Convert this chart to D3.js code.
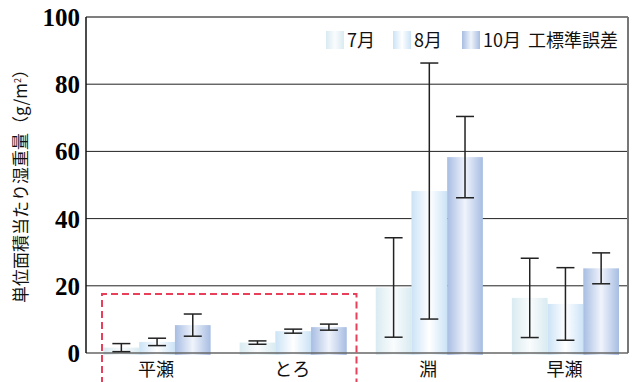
<!DOCTYPE html>
<html>
<head>
<meta charset="utf-8">
<title></title>
<script src="https://cdn.jsdelivr.net/npm/d3@7"></script>
<style>
  body { margin: 0; background: #fff; }
</style>
</head>
<body>
<div id="chart"></div>
<script>
// data
var sites = ["平瀬", "とろ", "淵", "早瀬"];
var months = ["7月", "8月", "10月"];
var mean7  = [1.6, 3.1, 19.5, 16.4];
var mean8  = [3.3, 6.5, 48.2, 14.6];
var mean10 = [8.3, 7.7, 58.3, 25.2];
var se7    = [1.2, 0.5, 14.8, 11.8];
var se8    = [1.1, 0.6, 38.1, 10.8];
var se10   = [3.3, 0.9, 12.1, 4.6];
var yTicks = [0, 20, 40, 60, 80, 100];

var means = [mean7, mean8, mean10];
var ses = [se7, se8, se10];
var rows = [];
sites.forEach(function (s, i) {
  months.forEach(function (m, j) {
    rows.push({ site: s, month: m, j: j, value: means[j][i], se: ses[j][i] });
  });
});

var W = 635, H = 382;
var mLeft = 86, mRight = 628, mTop = 17, mBottom = 353;

var svg = d3.select("#chart").append("svg")
  .attr("width", W).attr("height", H)
  .style("font-family", "'Noto Sans CJK JP', 'Noto Sans', sans-serif");

// gradients for the bars
var grads = [
  ["#d9ebf1", "#fafcfd", "#d9ebf1"],
  ["#cbe3f6", "#ffffff", "#cbe3f6"],
  ["#a7bde2", "#f0f4fb", "#a7bde2"]
];
var defs = svg.append("defs");
grads.forEach(function (g, i) {
  var lg = defs.append("linearGradient").attr("id", "g" + i)
    .attr("x1", "0%").attr("x2", "100%").attr("y1", "0%").attr("y2", "0%");
  lg.append("stop").attr("offset", "0%").attr("stop-color", g[0]);
  lg.append("stop").attr("offset", "50%").attr("stop-color", g[1]);
  lg.append("stop").attr("offset", "100%").attr("stop-color", g[2]);
});

var y = d3.scaleLinear().domain([0, 100]).range([mBottom, mTop]);
var x0 = d3.scaleBand().domain(sites).range([89, 633.5]).paddingInner(0.213).paddingOuter(0.1065);
var x1 = d3.scaleBand().domain(months).range([0, x0.bandwidth()]);

// grid lines
svg.append("g").selectAll("line")
  .data(yTicks.filter(function (d) { return d > 0; }))
  .enter().append("line")
  .attr("x1", mLeft).attr("x2", mRight)
  .attr("y1", function (d) { return y(d); })
  .attr("y2", function (d) { return y(d); })
  .attr("stroke", function (d) { return d === 100 ? "#555" : "#222"; })
  .attr("stroke-width", function (d) { return d === 100 ? 1.5 : 1; });

// right border
svg.append("line")
  .attr("x1", mRight).attr("x2", mRight).attr("y1", mTop).attr("y2", mBottom)
  .attr("stroke", "#777").attr("stroke-width", 2);

// bars
svg.append("g").selectAll("rect")
  .data(rows).enter().append("rect")
  .attr("x", function (d) { return x0(d.site) + x1(d.month); })
  .attr("width", x1.bandwidth())
  .attr("y", function (d) { return y(d.value); })
  .attr("height", function (d) { return y(0) - y(d.value) + 2; })
  .attr("fill", function (d) { return "url(#g" + d.j + ")"; });

// bottom axis line
svg.append("line")
  .attr("x1", mLeft).attr("x2", mRight).attr("y1", mBottom).attr("y2", mBottom)
  .attr("stroke", "#666").attr("stroke-width", 1.5);

// error bars
var eb = svg.append("g").attr("stroke", "#222").attr("stroke-width", 1.5);
rows.forEach(function (d) {
  var cx = x0(d.site) + x1(d.month) + x1.bandwidth() / 2;
  var hi = y(d.value + d.se), lo = y(d.value - d.se);
  eb.append("line").attr("x1", cx).attr("x2", cx).attr("y1", hi).attr("y2", lo);
  eb.append("line").attr("x1", cx - 9).attr("x2", cx + 9).attr("y1", hi).attr("y2", hi);
  eb.append("line").attr("x1", cx - 9).attr("x2", cx + 9).attr("y1", lo).attr("y2", lo);
});

// left axis line
svg.append("line")
  .attr("x1", mLeft).attr("x2", mLeft).attr("y1", mTop).attr("y2", mBottom)
  .attr("stroke", "#111").attr("stroke-width", 1.5);

// y tick labels
svg.append("g").selectAll("text")
  .data(yTicks).enter().append("text")
  .attr("x", 80)
  .attr("y", function (d) { return y(d) + 9; })
  .attr("text-anchor", "end")
  .style("font-family", "'Liberation Serif', 'Times New Roman', serif")
  .style("font-weight", "bold")
  .style("font-size", "25px")
  .text(function (d) { return d; });

// x labels
svg.append("g").selectAll("text")
  .data(sites).enter().append("text")
  .attr("x", function (d) { return x0(d) + x0.bandwidth() / 2 - 1; })
  .attr("y", 376)
  .attr("text-anchor", "middle")
  .style("font-size", "18px")
  .attr("fill", "#111")
  .text(function (d) { return d; });

// y title
var yt = svg.append("text")
  .attr("transform", "translate(27,182) rotate(-90)")
  .attr("text-anchor", "middle")
  .style("font-size", "17px")
  .attr("fill", "#111");
yt.append("tspan").text("単位面積当たり湿重量（g/m");
yt.append("tspan").attr("dy", -6).style("font-size", "9px").text("2");
yt.append("tspan").attr("dy", 6).text("）");

// red dashed frame
svg.append("path")
  .attr("d", "M102,384 L102,294 L356.5,294 L356.5,384")
  .attr("fill", "none")
  .attr("stroke", "#e8405a")
  .attr("stroke-width", 2)
  .attr("stroke-dasharray", "7,4");

// legend
var legX = [326, 393, 462];
var leg = svg.append("g");
months.forEach(function (m, i) {
  leg.append("rect").attr("x", legX[i]).attr("y", 31).attr("width", 18).attr("height", 18)
    .attr("fill", "url(#g" + i + ")");
  leg.append("text").attr("x", legX[i] + 21).attr("y", 47)
    .style("font-size", "18px").attr("fill", "#111").text(m);
});
leg.append("text").attr("x", 528).attr("y", 47)
  .style("font-size", "18px").attr("fill", "#111").text("工標準誤差");
</script>
</body>
</html>
